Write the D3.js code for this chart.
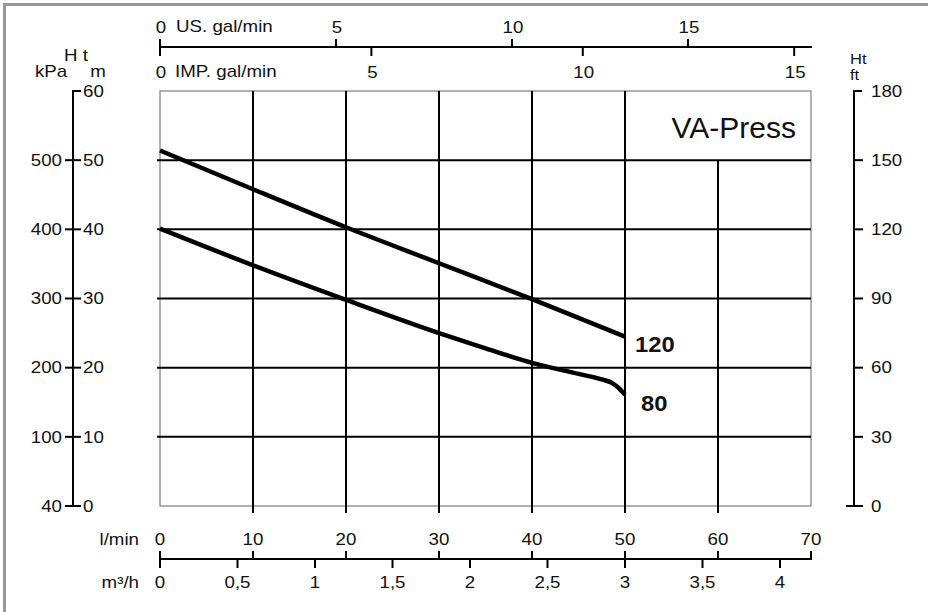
<!DOCTYPE html>
<html><head><meta charset="utf-8">
<script src="https://cdn.jsdelivr.net/npm/d3@7"></script>
<style>html,body{margin:0;padding:0;background:#fff;} svg{display:block;} text{font-family:"Liberation Sans",Arial,Helvetica,sans-serif;fill:#111;}</style>
</head><body>
<svg id="c" width="928" height="612"></svg>
<script>
// ---- data ----
const q120 = [0, 10, 20, 30, 40, 50];
const h120 = [51.4, 45.8, 40.3, 35.1, 29.9, 24.5];
const q80 = [0, 10, 20, 30, 35, 40, 45, 47.5, 48.6, 49.2, 50];
const h80 = [40.1, 34.8, 29.8, 25.0, 22.8, 20.7, 19.1, 18.3, 17.8, 17.2, 16.1];
const lminTicks = [0, 10, 20, 30, 40, 50, 60, 70];
const m3hTicks = [0, 0.5, 1, 1.5, 2, 2.5, 3, 3.5, 4];
const usTicks = [0, 5, 10, 15];
const impTicks = [0, 5, 10, 15];
const mTicks = [0, 10, 20, 30, 40, 50, 60];
const kPaLabels = ["40", "100", "200", "300", "400", "500"]; // at m = 0..50
const ftTicks = [0, 30, 60, 90, 120, 150, 180];
const curveLabels = ["120", "80"];
const title = "VA-Press";

// ---- layout ----
const L = 160, R = 811, T = 91, B = 506;
const svg = d3.select("#c");
const x = d3.scaleLinear().domain([0, 70]).range([L, R]);
const y = d3.scaleLinear().domain([0, 60]).range([B, T]);
const yft = d3.scaleLinear().domain([0, 180]).range([B, T]);
const xUS = d3.scaleLinear().domain([0, 70 / 3.785]).range([L, R]);
const xIMP = d3.scaleLinear().domain([0, 70 / 4.546]).range([L, R]);
const xM3 = d3.scaleLinear().domain([0, 70 * 60 / 1000]).range([L, R]);
const SX = 1.17;
const FS = 16;
const fmtC = v => String(v).replace(".", ",");

function txt(px, py, s, o = {}) {
  svg.append("text")
    .attr("transform", `translate(${px},${py}) scale(${o.sx || SX},1)`)
    .attr("text-anchor", o.a || "start")
    .attr("font-size", o.fs || FS)
    .attr("font-weight", o.w || "normal")
    .text(s);
}
function ln(x1, y1, x2, y2, w = 2, c = "#000") {
  svg.append("line").attr("x1", x1).attr("y1", y1).attr("x2", x2).attr("y2", y2)
    .attr("stroke", c).attr("stroke-width", w);
}

// outer border (left + top)
svg.append("path").attr("d", "M4.5,612V4.5H928").attr("fill", "none").attr("stroke", "#999").attr("stroke-width", 3);

// plot frame
svg.append("rect").attr("x", L).attr("y", T).attr("width", R - L).attr("height", B - T)
  .attr("fill", "none").attr("stroke", "#888").attr("stroke-width", 1.3);

// grid
[10, 20, 30, 40, 50].forEach(v => ln(L - 3, y(v), R, y(v)));
[10, 20, 30, 40, 50].forEach(v => ln(x(v), T, x(v), B + 7));
ln(x(60), y(50), x(60), B + 7);

// left axis (m / kPa)
const AX = 73;
ln(AX, y(60) - 1, AX, y(0) + 1);
ln(AX - 1, y(60), AX + 8, y(60));
mTicks.slice(0, 6).forEach(v => ln(AX - 8, y(v), AX + 8, y(v)));
mTicks.forEach(v => txt(AX + 10, y(v) + 5.8, String(v)));
kPaLabels.forEach((s, i) => txt(AX - 11, y(mTicks[i]) + 5.8, s, { a: "end" }));
txt(76, 61, "H t", { a: "middle" });
txt(35, 77, "kPa");
txt(98, 77, "m", { a: "middle" });

// right axis (ft)
const RX = 854;
ln(RX, yft(180) - 1, RX, yft(0) + 1);
ln(RX - 1, yft(180), RX + 8, yft(180));
ftTicks.slice(1, 6).forEach(v => ln(RX, yft(v), RX + 9, yft(v)));
ln(RX - 8, yft(0), RX + 9, yft(0));
ftTicks.forEach(v => txt(RX + 17, yft(v) + 5.8, String(v)));
txt(850, 64, "Ht", { fs: 15, sx: 1.1 });
txt(850, 80, "ft", { fs: 15, sx: 1.1 });

// top axes (US / IMP gal/min)
const TY = 47;
ln(L, TY, R + 1, TY);
ln(L, TY - 8, L, TY + 9);
usTicks.slice(1).forEach(v => ln(xUS(v), TY - 8, xUS(v), TY));
impTicks.slice(1).forEach(v => ln(xIMP(v), TY, xIMP(v), TY + 9));
usTicks.forEach(v => txt(xUS(v) + 1, 33, String(v), { a: "middle" }));
impTicks.forEach(v => txt(xIMP(v) + 1, 78, String(v), { a: "middle" }));
txt(176, 32, "US. gal/min");
txt(175, 77, "IMP. gal/min");

// bottom axes (l/min / m3/h)
const BY = 559;
ln(L, BY, R + 1, BY);
lminTicks.forEach(v => ln(x(v), BY - 8, x(v), BY));
m3hTicks.forEach(v => ln(xM3(v), BY, xM3(v), BY + 9));
lminTicks.forEach(v => txt(x(v), 545, String(v), { a: "middle" }));
m3hTicks.forEach(v => txt(xM3(v), 588, fmtC(v), { a: "middle" }));
txt(139, 545, "l/min", { a: "end" });
txt(139, 588, "m³/h", { a: "end" });

// curves
const line = d3.line().x(d => x(d[0])).y(d => y(d[1])).curve(d3.curveMonotoneX);
[[q120, h120], [q80, h80]].forEach(([q, h]) => {
  svg.append("path").attr("d", line(q.map((v, i) => [v, h[i]])))
    .attr("fill", "none").attr("stroke", "#000").attr("stroke-width", 4.5).attr("stroke-linejoin", "round");
});
txt(635, 352, curveLabels[0], { fs: 22, w: "bold", sx: 1.08 });
txt(641, 411, curveLabels[1], { fs: 22, w: "bold", sx: 1.08 });

// title
txt(796, 138, title, { a: "end", fs: 30, sx: 1.0 });
</script>
</body></html>
